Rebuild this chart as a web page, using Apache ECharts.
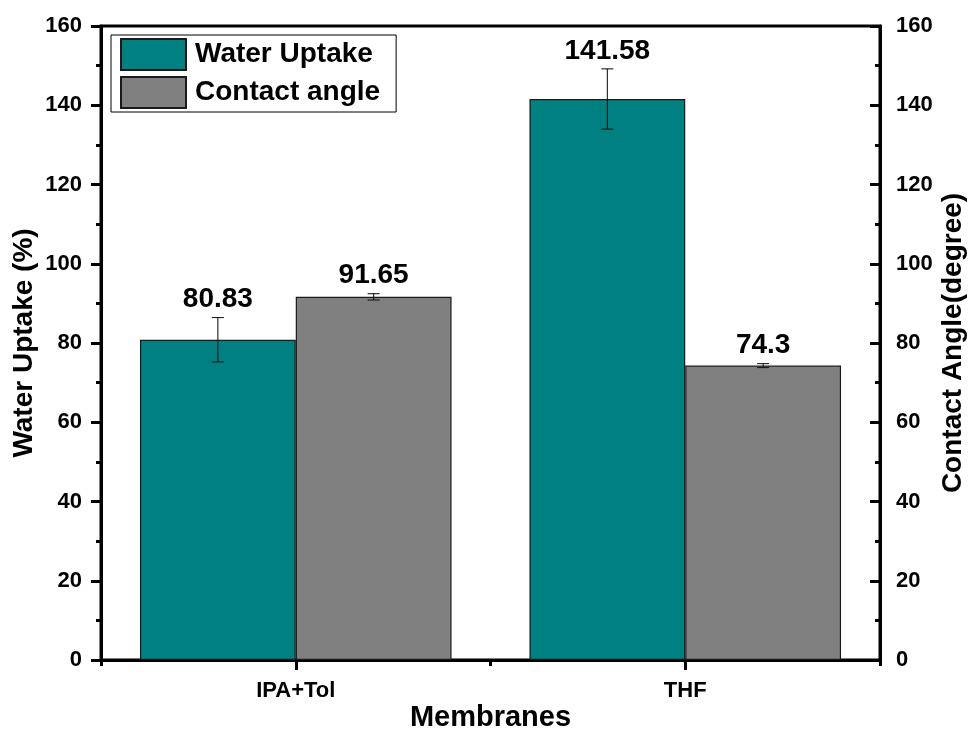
<!DOCTYPE html>
<html>
<head>
<meta charset="utf-8">
<title>Water Uptake and Contact Angle</title>
<script src="https://cdn.jsdelivr.net/npm/echarts@6/dist/echarts.min.js"></script>
<style>
  html, body { margin: 0; padding: 0; background: #fff; }
  #chart { width: 971px; height: 729px; }
</style>
</head>
<body>
<div id="chart"></div>
<script>
// Membrane types on the category axis
const categories = ['IPA+Tol', 'THF'];

// Water uptake (%) with standard deviation
const waterUptake = [80.83, 141.58];
const waterUptakeErr = [5.6, 7.6];

// Contact angle (degree) with standard deviation
const contactAngle = [91.65, 74.3];
const contactAngleErr = [0.8, 0.5];

// Shared value range for both y axes
const yMin = 0;
const yMax = 160;
const yStep = 20;

const FONT = '"Liberation Sans", Arial, sans-serif';
const TEAL = '#008080';
const GREY = '#808080';

const chart = echarts.init(document.getElementById('chart'), null, { renderer: 'canvas' });

// Error bar + value label drawn next to each bar; offset is a fraction of the band width
function errorSeries(name, values, errs, yAxisIndex, offset) {
  return {
    name: name + ' error',
    type: 'custom',
    xAxisIndex: 0,
    yAxisIndex: yAxisIndex,
    z: 10,
    silent: true,
    encode: { x: 0, y: 1 },
    data: values.map((v, i) => [i, v, errs[i]]),
    renderItem: function (params, api) {
      const idx = api.value(0);
      const v = api.value(1);
      const e = api.value(2);
      const band = api.size([1, 0])[0];
      const x = api.coord([idx, v])[0] + offset * band;
      const yTop = api.coord([idx, v + e])[1];
      const yBot = api.coord([idx, v - e])[1];
      const cap = 6;
      const stroke = { stroke: '#1a1a1a', lineWidth: 1.1 };
      return {
        type: 'group',
        children: [
          { type: 'line', shape: { x1: x, y1: yTop, x2: x, y2: yBot }, style: stroke },
          { type: 'line', shape: { x1: x - cap, y1: yTop, x2: x + cap, y2: yTop }, style: stroke },
          { type: 'line', shape: { x1: x - cap, y1: yBot, x2: x + cap, y2: yBot }, style: stroke },
          {
            type: 'text',
            x: x,
            y: yTop - 4,
            style: {
              text: String(values[idx]),
              fill: '#000',
              font: 'bold 28px ' + FONT,
              textAlign: 'center',
              textVerticalAlign: 'bottom'
            }
          }
        ]
      };
    }
  };
}

function valueAxis(name, position, inside, nameGap) {
  return {
    type: 'value',
    position: position,
    min: yMin,
    max: yMax,
    interval: yStep,
    name: name,
    nameLocation: 'middle',
    nameGap: nameGap,
    nameMoveOverlap: false,
    nameRotate: 90,
    nameTextStyle: { fontFamily: FONT, fontWeight: 'bold', fontSize: 28, color: '#000' },
    axisLine: { show: true, onZero: false, lineStyle: { color: '#000', width: 3 } },
    axisTick: { show: true, inside: inside, length: 10, lineStyle: { color: '#000', width: 3 } },
    minorTick: { show: true, splitNumber: 2, length: 5, lineStyle: { color: '#000', width: 3 } },
    axisLabel: {
      show: true,
      margin: inside ? 16 : 19,
      fontFamily: FONT,
      fontWeight: 'bold',
      fontSize: 22,
      color: '#000'
    },
    splitLine: { show: false }
  };
}

const option = {
  backgroundColor: '#fff',
  animation: false,
  grid: {
    left: 101,
    right: 91,
    top: 26,
    bottom: 69,
    outerBoundsMode: 'none',
    containLabel: false,
    show: true,
    borderColor: '#000',
    borderWidth: 3,
    backgroundColor: 'transparent'
  },
  legend: {
    data: ['Water Uptake', 'Contact angle'],
    orient: 'vertical',
    left: 111,
    top: 35,
    itemWidth: 65,
    itemHeight: 31,
    itemGap: 5,
    padding: [3, 16, 3, 9],
    borderColor: '#000',
    borderWidth: 1,
    icon: 'rect',
    selectedMode: false,
    textStyle: { fontFamily: FONT, fontWeight: 'bold', fontSize: 28, color: '#000', padding: [0, 0, 0, 4] }
  },
  xAxis: [
    {
      type: 'category',
      data: categories,
      position: 'bottom',
      name: 'Membranes',
      nameLocation: 'middle',
      nameGap: 43,
      nameMoveOverlap: false,
      nameTextStyle: { fontFamily: FONT, fontWeight: 'bold', fontSize: 29, color: '#000' },
      axisLine: { show: true, onZero: false, lineStyle: { color: '#000', width: 3 } },
      axisTick: { show: true, alignWithLabel: true, length: 10, lineStyle: { color: '#000', width: 3 } },
      axisLabel: { margin: 20, fontFamily: FONT, fontWeight: 'bold', fontSize: 22, color: '#000' },
      splitLine: { show: false }
    },
    {
      // short ticks at the category boundaries
      type: 'category',
      data: categories,
      position: 'bottom',
      axisLine: { show: false },
      axisTick: { show: true, length: 6, lineStyle: { color: '#000', width: 3 } },
      axisLabel: { show: false },
      splitLine: { show: false }
    }
  ],
  yAxis: [
    valueAxis('Water Uptake (%)', 'left', false, 63),
    valueAxis('Contact Angle(degree)', 'right', true, 59)
  ],
  series: [
    {
      name: 'Water Uptake',
      type: 'bar',
      xAxisIndex: 0,
      yAxisIndex: 0,
      data: waterUptake,
      barGap: '0%',
      barCategoryGap: '20%',
      itemStyle: { color: TEAL, borderColor: '#1a1a1a', borderWidth: 1.2 }
    },
    {
      name: 'Contact angle',
      type: 'bar',
      xAxisIndex: 0,
      yAxisIndex: 1,
      data: contactAngle,
      barGap: '0%',
      barCategoryGap: '20%',
      itemStyle: { color: GREY, borderColor: '#1a1a1a', borderWidth: 1.2 }
    },
    errorSeries('Water Uptake', waterUptake, waterUptakeErr, 0, -0.2),
    errorSeries('Contact angle', contactAngle, contactAngleErr, 1, 0.2)
  ]
};

chart.setOption(option);
</script>
</body>
</html>
